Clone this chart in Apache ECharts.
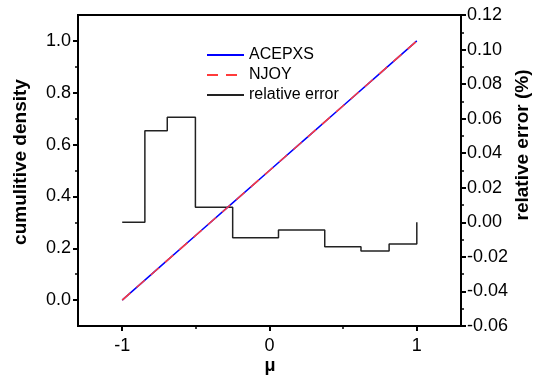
<!DOCTYPE html>
<html>
<head>
<meta charset="utf-8">
<script src="https://cdn.jsdelivr.net/npm/echarts@6/dist/echarts.min.js"></script>
<style>html,body{margin:0;padding:0;background:#fff;}#c{width:533px;height:382px;}</style>
</head>
<body>
<div id="c"></div>
<script>
// cumulative density curves
const muGrid = [-1, -0.75, -0.5, -0.25, 0, 0.25, 0.5, 0.75, 1];
const acepxs = [0, 0.125, 0.25, 0.375, 0.5, 0.625, 0.75, 0.875, 1.0];
const njoy   = [0, 0.125, 0.25, 0.375, 0.5, 0.625, 0.75, 0.875, 1.0];
// relative error step (%)
const errMu  = [-1, -0.846, -0.694, -0.503, -0.25, 0.061, 0.375, 0.621, 0.812, 1];
const errVal = [0, 0.053, 0.0608, 0.0087, -0.0089, -0.0044, -0.0141, -0.0166, -0.0125, 0];
// ticks
const xTicks = [-1, 0, 1];
const xMinor = [-0.5, 0.5];
const yLeftTicks = [0, 0.2, 0.4, 0.6, 0.8, 1.0];
const yLeftMinor = [0.1, 0.3, 0.5, 0.7, 0.9];

const pair = (xs, ys) => xs.map((x, i) => [x, ys[i]]);
const FONT = 'Liberation Sans, Arial, sans-serif';
const axisLine = { show: true, onZero: false, lineStyle: { color: '#000', width: 2 } };
const noLine = { show: false, onZero: false };

const chart = echarts.init(document.getElementById('c'), null, { renderer: 'canvas' });
chart.setOption({
  animation: false,
  backgroundColor: '#fff',
  grid: { left: 78, right: 72, top: 15, bottom: 56, show: true, borderColor: '#000', borderWidth: 2, backgroundColor: 'transparent' },
  legend: {
    orient: 'vertical', left: 201, top: 42, itemWidth: 37, itemHeight: 10, itemGap: 4, padding: 5,
    itemStyle: { opacity: 0 },
    textStyle: { fontFamily: FONT, fontSize: 16, color: '#000' },
    data: ['ACEPXS', 'NJOY', 'relative error']
  },
  xAxis: [
    { type: 'value', min: -1.3, max: 1.3, position: 'bottom', axisLine: axisLine,
      axisTick: { show: true, inside: false, length: 5, customValues: xTicks, lineStyle: { color: '#000', width: 2 } },
      axisLabel: { customValues: xTicks, fontFamily: FONT, fontSize: 18, color: '#000', margin: 11, formatter: v => String(v) },
      splitLine: { show: false } },
    { type: 'value', min: -1.3, max: 1.3, position: 'bottom', axisLine: noLine,
      axisTick: { show: true, length: 3, customValues: xMinor, lineStyle: { color: '#000', width: 1.5 } },
      axisLabel: { show: false }, splitLine: { show: false } }
  ],
  yAxis: [
    { type: 'value', min: -0.1, max: 1.1, position: 'left', axisLine: axisLine,
      axisTick: { show: true, length: 5, customValues: yLeftTicks, lineStyle: { color: '#000', width: 2 } },
      axisLabel: { customValues: yLeftTicks, fontFamily: FONT, fontSize: 18, color: '#000', margin: 7, formatter: v => v.toFixed(1) },
      splitLine: { show: false } },
    { type: 'value', min: -0.06, max: 0.12, interval: 0.02, position: 'right', axisLine: axisLine,
      axisTick: { show: true, length: 5, lineStyle: { color: '#000', width: 2 } },
      minorTick: { show: true, splitNumber: 2, length: 3, lineStyle: { color: '#000', width: 1.5 } },
      axisLabel: { fontFamily: FONT, fontSize: 18, color: '#000', margin: 6, formatter: v => v.toFixed(2) },
      splitLine: { show: false } },
    { type: 'value', min: -0.1, max: 1.1, position: 'left', axisLine: noLine,
      axisTick: { show: true, length: 3, customValues: yLeftMinor, lineStyle: { color: '#000', width: 1.5 } },
      axisLabel: { show: false }, splitLine: { show: false } }
  ],
  series: [
    { name: 'relative error', type: 'line', xAxisIndex: 0, yAxisIndex: 1, step: 'end', symbol: 'none',
      data: pair(errMu, errVal), lineStyle: { color: '#222', width: 1.5 }, itemStyle: { color: '#222' }, z: 2 },
    { name: 'ACEPXS', type: 'line', xAxisIndex: 0, yAxisIndex: 0, symbol: 'none',
      data: pair(muGrid, acepxs), lineStyle: { color: '#0000ff', width: 1.5 }, itemStyle: { color: '#0000ff' }, z: 3 },
    { name: 'NJOY', type: 'line', xAxisIndex: 0, yAxisIndex: 0, symbol: 'none',
      data: pair(muGrid, njoy), lineStyle: { color: '#ff3b3b', width: 1.5, type: [11, 8] }, itemStyle: { color: '#ff3b3b' }, z: 4 }
  ],
  graphic: [
    { type: 'text', x: 21, y: 162, rotation: Math.PI / 2,
      style: { text: 'cumulitive density', font: 'bold 19px ' + FONT, fill: '#000', align: 'center', verticalAlign: 'middle' } },
    { type: 'text', x: 523, y: 145, rotation: Math.PI / 2,
      style: { text: 'relative error (%)', font: 'bold 19px ' + FONT, fill: '#000', align: 'center', verticalAlign: 'middle' } },
    { type: 'text', x: 270, y: 366,
      style: { text: 'μ', font: 'bold 18px ' + FONT, fill: '#000', align: 'center', verticalAlign: 'middle' } }
  ]
});
</script>
</body>
</html>
